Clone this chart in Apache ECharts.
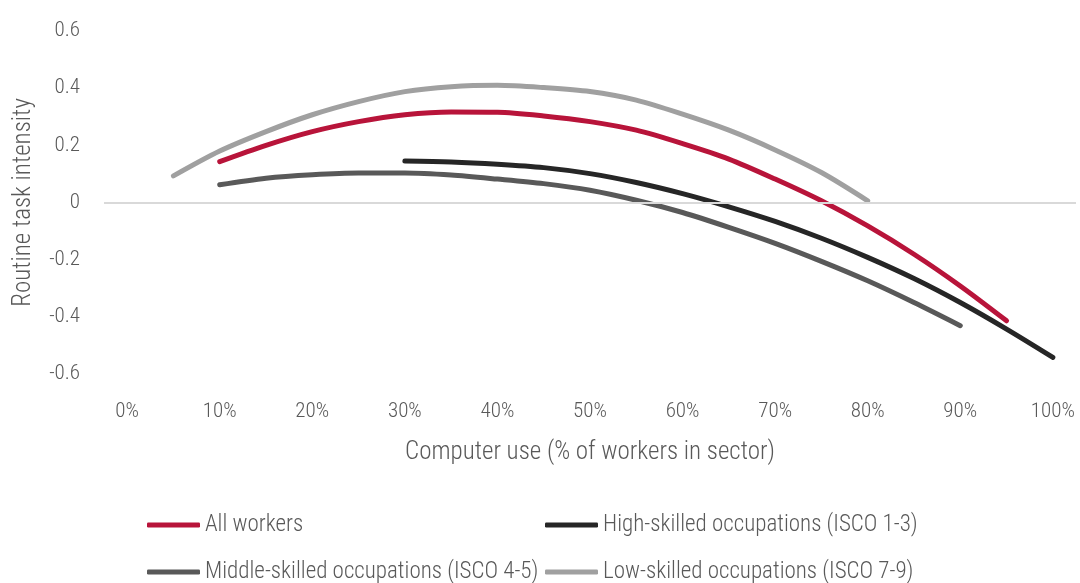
<!DOCTYPE html>
<html>
<head>
<meta charset="utf-8">
<script src="https://cdn.jsdelivr.net/npm/echarts@6/dist/echarts.min.js"></script>
<style>
  html, body { margin: 0; padding: 0; background: #fff; }
  #chart { width: 1080px; height: 583px; }
</style>
</head>
<body>
<div id="chart"></div>
<script>
// x categories every 5%, labels shown every 10%
var categories = ['0%', '5%', '10%', '15%', '20%', '25%', '30%', '35%', '40%', '45%', '50%',
  '55%', '60%', '65%', '70%', '75%', '80%', '85%', '90%', '95%', '100%'];
var allWorkers = [null, null, 0.143, 0.200, 0.248, 0.283, 0.307, 0.317, 0.316, 0.303, 0.283,
  0.253, 0.206, 0.152, 0.082, 0.006, -0.082, -0.181, -0.292, -0.414, null];
var highSkilled = [null, null, null, null, null, null, 0.145, 0.142, 0.134, 0.122, 0.101,
  0.070, 0.031, -0.015, -0.066, -0.125, -0.192, -0.266, -0.350, -0.443, -0.542];
var middleSkilled = [null, null, 0.062, 0.085, 0.097, 0.103, 0.103, 0.096, 0.082, 0.066, 0.043,
  0.008, -0.035, -0.087, -0.143, -0.206, -0.274, -0.350, -0.431, null, null];
var lowSkilled = [null, 0.093, 0.180, 0.248, 0.307, 0.353, 0.388, 0.405, 0.410, 0.402, 0.388,
  0.358, 0.309, 0.253, 0.184, 0.105, 0.006, null, null, null, null];
var names = ['All workers', 'High-skilled occupations (ISCO 1-3)',
  'Middle-skilled occupations (ISCO 4-5)', 'Low-skilled occupations (ISCO 7-9)'];

var font = '"Roboto Condensed", "Liberation Sans Narrow", "DejaVu Sans Condensed", Roboto, sans-serif';
var textColor = '#595959';

var chart = echarts.init(document.getElementById('chart'));

function legendAt(name, left, top) {
  return {
    data: [name],
    left: left,
    top: top,
    padding: 0,
    icon: 'roundRect',
    itemWidth: 53,
    itemHeight: 5,
    itemGap: 0,
    selectedMode: false,
    textStyle: { fontFamily: font, fontWeight: 300, fontSize: 23, lineHeight: 24, color: textColor }
  };
}

function line(name, data, color) {
  return {
    name: name,
    type: 'line',
    data: data,
    smooth: 0.3,
    showSymbol: false,
    symbol: 'none',
    silent: true,
    lineStyle: { color: color, width: 5, cap: 'round' },
    itemStyle: { color: color }
  };
}

var series = [
  line(names[3], lowSkilled, '#a0a0a0'),
  line(names[2], middleSkilled, '#595959'),
  line(names[1], highSkilled, '#262626'),
  line(names[0], allWorkers, '#b8143a')
];
series[0].markLine = {
  silent: true,
  symbol: 'none',
  label: { show: false },
  lineStyle: { color: '#d9d9d9', width: 2, type: 'solid' },
  data: [{ yAxis: 0 }]
};

chart.setOption({
  animation: false,
  textStyle: { fontFamily: font },
  grid: { left: 104, right: 4, top: 31, bottom: 209, containLabel: false },
  legend: [
    legendAt(names[0], 147, 513),
    legendAt(names[1], 545, 513),
    legendAt(names[2], 147, 560),
    legendAt(names[3], 545, 560)
  ],
  xAxis: {
    type: 'category',
    data: categories,
    boundaryGap: true,
    name: 'Computer use (% of workers in sector)',
    nameLocation: 'middle',
    nameGap: 66,
    nameTextStyle: { fontFamily: font, fontWeight: 300, fontSize: 25, color: textColor },
    axisLine: { show: false },
    axisTick: { show: false },
    axisLabel: { interval: 1, margin: 27, fontFamily: font, fontWeight: 300, fontSize: 21, color: textColor },
    splitLine: { show: false }
  },
  yAxis: {
    type: 'value',
    min: -0.6,
    max: 0.6,
    interval: 0.2,
    name: 'Routine task intensity',
    nameLocation: 'middle',
    nameGap: 68,
    nameTextStyle: { fontFamily: font, fontWeight: 300, fontSize: 25, color: textColor },
    axisLine: { show: false },
    axisTick: { show: false },
    splitLine: { show: false },
    axisLabel: {
      margin: 24,
      fontFamily: font,
      fontWeight: 300,
      fontSize: 21,
      color: textColor,
      formatter: function (v) { return Math.abs(v) < 1e-9 ? '0' : v.toFixed(1); }
    }
  },
  series: series
});
</script>
</body>
</html>
